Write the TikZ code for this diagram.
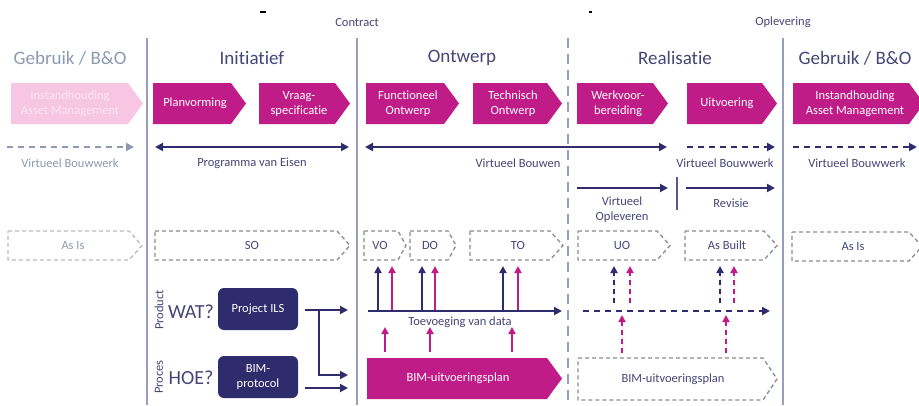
\documentclass[tikz,border=0pt]{standalone}
\usepackage{fontspec}
\setmainfont{Carlito}[Ligatures={NoCommon,NoRare}, RawFeature={-liga;-dlig}]
\usetikzlibrary{arrows.meta}
\definecolor{navy}{HTML}{2E2C6C}
\definecolor{mag}{HTML}{C01C88}
\definecolor{lpink}{HTML}{F7C6E2}
\definecolor{lpinktxt}{HTML}{FCE6F2}
\definecolor{hdr}{HTML}{454578}
\definecolor{fadetxt}{HTML}{8E99B0}
\definecolor{sepc}{HTML}{9A9DBB}
\definecolor{dgrey}{HTML}{8C8C8C}
\newcommand{\chev}[6]{\path[#1] (#2,#3) -- ({#4-#6},#3) -- (#4,{(#3+#5)/2}) -- ({#4-#6},#5) -- (#2,#5) -- cycle;}
\tikzset{
  lbl/.style={font=\fontsize{12.5}{15}\selectfont, text=hdr, align=center, inner sep=0pt},
  fadelbl/.style={lbl, text=fadetxt},
  hdrtxt/.style={font=\fontsize{19}{22}\selectfont, text=hdr, inner sep=0pt},
  ctext/.style={font=\fontsize{12.5}{15}\selectfont, text=white, align=center, inner sep=0pt},
  tip/.style={-{Triangle[length=8pt,width=8pt]}},
  arr/.style={tip, line width=2pt, draw=navy},
  darr/.style={arr, dash pattern=on 6pt off 5pt},
  smarr/.style={-{Triangle[length=7pt,width=7pt]}, line width=2pt},
  dchev/.style={draw=dgrey, line width=1.3pt, dash pattern=on 4pt off 3pt},
  sepline/.style={draw=sepc, line width=1.6pt},
  navybox/.style={fill=navy, rounded corners=6pt, text=white, font=\fontsize{12.5}{15}\selectfont, align=center, minimum width=80pt, minimum height=42pt, inner sep=0pt},
}
\begin{document}
\begin{tikzpicture}[x=1pt,y=-1pt]
\useasboundingbox (0,0) rectangle (919,405);
% tiny fragments at top
\draw[black, line width=1.2pt] (260,12) -- (266,12);
\draw[black, line width=1.2pt] (589,12) -- (592,12);
% top labels
\node[lbl] (contract) at (357,22) {Contract};
\node[lbl] (oplevering) at (783,22) {Oplevering};
% separators
\coordinate (s1t) at (147,38); \coordinate (s1b) at (147,405);
\coordinate (s2t) at (357,38); \coordinate (s2b) at (357,405);
\coordinate (s3t) at (568,38); \coordinate (s3b) at (568,405);
\coordinate (s4t) at (783,38); \coordinate (s4b) at (783,405);
\draw[sepline] (s1t) -- (s1b);
\draw[sepline] (s2t) -- (s2b);
\draw[sepline, dash pattern=on 10pt off 6pt] (s3t) -- (s3b);
\draw[sepline] (s4t) -- (s4b);
% headers
\node[hdrtxt, text=fadetxt] (h0) at (70,58) {Gebruik / B\&O};
\node[hdrtxt] (h1) at (252,58) {Initiatief};
\node[hdrtxt] (h2) at (462,58) {Ontwerp};
\node[hdrtxt] (h3) at (675,58) {Realisatie};
\node[hdrtxt] (h4) at (855,58) {Gebruik / B\&O};
% process chevrons
\chev{fill=lpink}{11}{83}{143}{124}{15}
\node[ctext, text=lpinktxt] (p0) at (70,103.5) {Instandhouding\\Asset Management};
\chev{fill=mag}{153}{83}{246}{124}{15}
\node[ctext] (p1) at (195,103.5) {Planvorming};
\chev{fill=mag}{259}{83}{350}{124}{15}
\node[ctext] (p2) at (299,103.5) {Vraag-\\specificatie};
\chev{fill=mag}{366}{83}{459}{124}{15}
\node[ctext] (p3) at (408,103.5) {Functioneel\\Ontwerp};
\chev{fill=mag}{473}{83}{562}{124}{15}
\node[ctext] (p4) at (513,103.5) {Technisch\\Ontwerp};
\chev{fill=mag}{577}{83}{668}{124}{15}
\node[ctext] (p5) at (618,103.5) {Werkvoor-\\bereiding};
\chev{fill=mag}{687}{83}{777}{124}{15}
\node[ctext] (p6) at (727,103.5) {Uitvoering};
\chev{fill=mag}{793}{83}{924}{124}{15}
\node[ctext] (p7) at (855,103.5) {Instandhouding\\Asset Management};
% row 2
\coordinate (a0s) at (7,147); \coordinate (a0e) at (134,147);
\draw[darr, draw=fadetxt] (a0s) -- (a0e);
\node[fadelbl] (l0) at (70,163) {Virtueel Bouwwerk};
\coordinate (a1s) at (155,147); \coordinate (a1e) at (349,147);
\draw[arr, {Triangle[length=8pt,width=8pt]}-{Triangle[length=8pt,width=8pt]}] (a1s) -- (a1e);
\node[lbl] (l1) at (252,163) {Programma van Eisen};
\coordinate (a2s) at (365,147); \coordinate (a2e) at (667,147);
\draw[arr, {Triangle[length=8pt,width=8pt]}-{Triangle[length=8pt,width=8pt]}] (a2s) -- (a2e);
\node[lbl] (l2) at (518,163) {Virtueel Bouwen};
\coordinate (a3s) at (687,147); \coordinate (a3e) at (775,147);
\draw[darr] (a3s) -- (a3e);
\node[lbl] (l3) at (725,163) {Virtueel Bouwwerk};
\coordinate (a4s) at (793,147); \coordinate (a4e) at (917,147);
\draw[darr] (a4s) -- (a4e);
\node[lbl] (l4) at (857,163) {Virtueel Bouwwerk};
% row 3
\coordinate (b1s) at (577,188); \coordinate (b1e) at (668,188);
\draw[arr] (b1s) -- (b1e);
\node[lbl] (l5) at (622,210) {Virtueel\\Opleveren};
\coordinate (v1) at (677,177); \coordinate (v2) at (677,210);
\draw[sepline, draw=navy!60!sepc] (v1) -- (v2);
\coordinate (b2s) at (686,188); \coordinate (b2e) at (775,188);
\draw[arr] (b2s) -- (b2e);
\node[lbl] (l6) at (731,203) {Revisie};
% row 4 dashed chevrons
\chev{dchev, draw=dgrey!60}{8}{231}{142}{260}{13}
\node[fadelbl] (d0) at (73,245.5) {As Is};
\chev{dchev}{155}{231}{350}{260}{13}
\node[lbl] (so) at (252,245.5) {SO};
\chev{dchev}{364}{231}{406}{260}{8}
\node[lbl] (vo) at (380,245.5) {VO};
\chev{dchev}{410}{231}{456}{260}{8}
\node[lbl] (do) at (430,245.5) {DO};
\chev{dchev}{470}{231}{563}{260}{13}
\node[lbl] (to) at (518,245.5) {TO};
\chev{dchev}{578}{231}{670}{260}{13}
\node[lbl] (uo) at (622,245.5) {UO};
\chev{dchev}{685}{231}{777}{260}{13}
\node[lbl] (asb) at (727,245.5) {As Built};
\chev{dchev}{792}{232}{922}{261}{13}
\node[lbl] (asis) at (853,246.5) {As Is};
% small up arrows to VO/DO/TO
\foreach \xx/\cc/\nm in {378/navy/u1,392/mag/u2,422/navy/u3,435/mag/u4,503/navy/u5,518/mag/u6}{
  \coordinate (\nm b) at (\xx,310); \coordinate (\nm t) at (\xx,266);
  \draw[smarr, draw=\cc, fill=\cc, line width=1.8pt] (\nm b) -- (\nm t);
}
% dashed small up arrows to UO / As Built
\foreach \xx/\cc/\nm in {614/navy/w1,630/mag/w2,720/navy/w3,734/mag/w4}{
  \coordinate (\nm b) at (\xx,303); \coordinate (\nm t) at (\xx,266);
  \draw[smarr, draw=\cc, fill=\cc, line width=1.8pt, dash pattern=on 5pt off 4pt] (\nm b) -- (\nm t);
}
% Toevoeging line
\coordinate (tvs) at (368,311); \coordinate (tve) at (562,311);
\draw[arr] (tvs) -- (tve);
\node[lbl] (tv) at (460,322) {Toevoeging van data};
\coordinate (tds) at (583,311); \coordinate (tde) at (770,311);
\draw[darr] (tds) -- (tde);
% BIM-uitvoeringsplan
\chev{fill=mag}{367}{358}{562}{399}{15}
\node[ctext] (bup) at (458,378.5) {BIM-uitvoeringsplan};
\chev{dchev}{578}{358}{777}{400}{14}
\node[lbl] (bup2) at (673,379) {BIM-uitvoeringsplan};
% pink up arrows from plan
\foreach \xx/\nm in {385/m1,430/m2,512/m3}{
  \coordinate (\nm b) at (\xx,352); \coordinate (\nm t) at (\xx,327);
  \draw[smarr, draw=mag, fill=mag, line width=1.8pt] (\nm b) -- (\nm t);
}
\foreach \xx/\nm in {622/n1,726/n2}{
  \coordinate (\nm b) at (\xx,353); \coordinate (\nm t) at (\xx,315);
  \draw[smarr, draw=mag, fill=mag, line width=1.8pt, dash pattern=on 5pt off 4pt] (\nm b) -- (\nm t);
}
% left side: product / proces
\node[lbl, rotate=90] (prod) at (159,310) {Product};
\node[lbl, rotate=90] (proc) at (159,377) {Proces};
\node[hdrtxt, font=\fontsize{20}{24}\selectfont] (wat) at (191,312) {WAT?};
\node[hdrtxt, font=\fontsize{20}{24}\selectfont] (hoe) at (191,378) {HOE?};
\node[navybox] (ils) at (258,309) {Project ILS};
\node[navybox] (bimp) at (258,377) {BIM-\\protocol};
\coordinate (t1) at (348,310);
\coordinate (br) at (319,310);
\coordinate (t2) at (348,375);
\coordinate (t3) at (348,388);
\coordinate (bps) at (305,388);
\draw[arr, line width=1.8pt, shorten <=7pt] (ils.east |- t1) -- (t1);
\draw[arr, line width=1.8pt] (br) |- (t2);
\draw[arr, line width=1.8pt] (bps) -- (t3);
\end{tikzpicture}
\end{document}
